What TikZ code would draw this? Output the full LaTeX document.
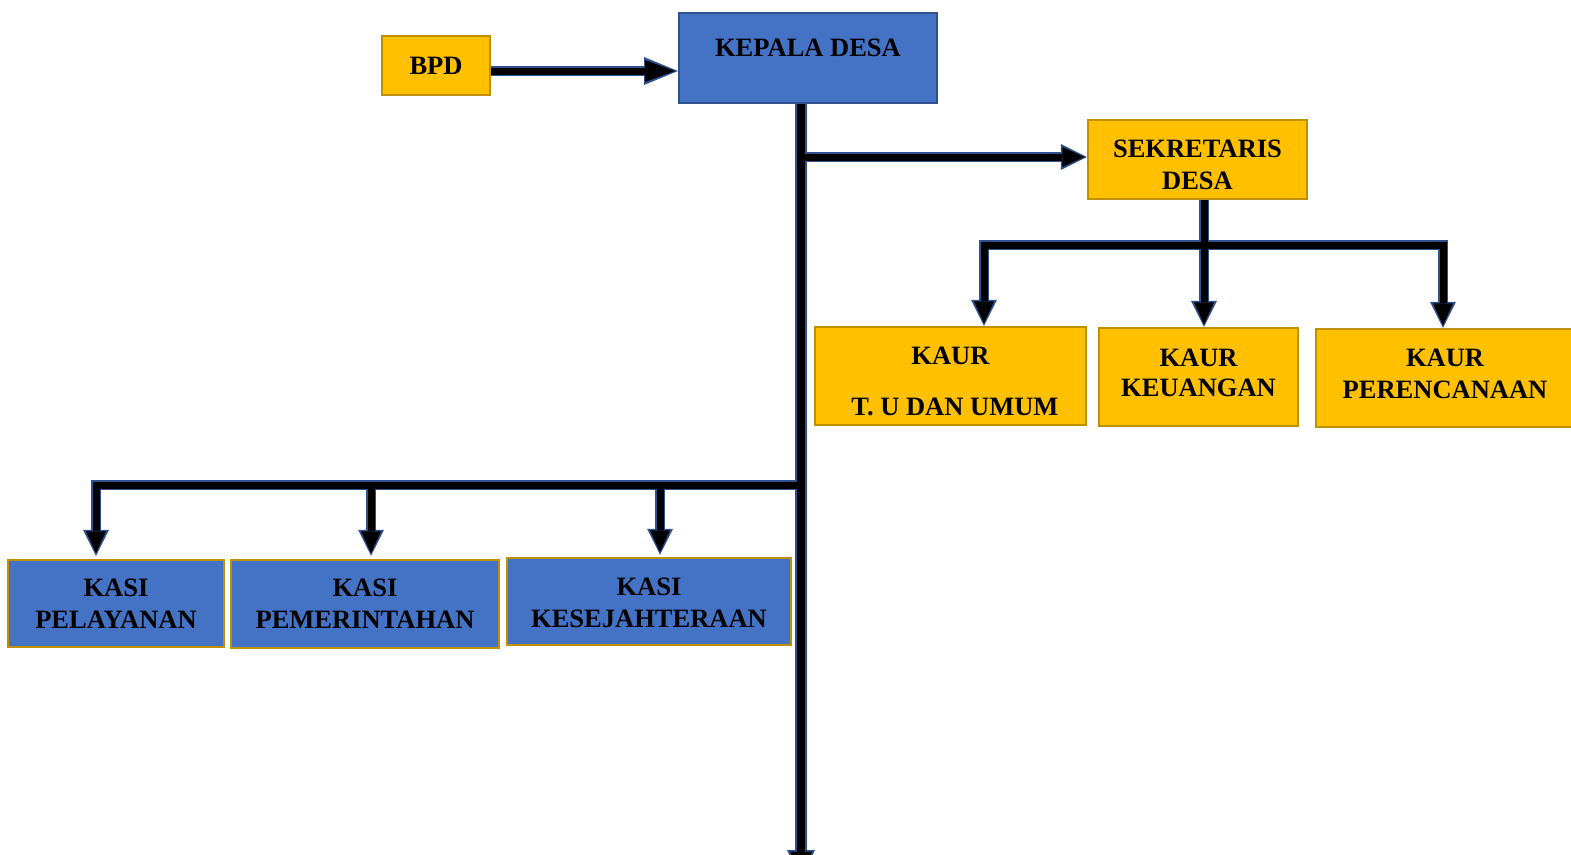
\documentclass[tikz,border=0pt]{standalone}
\usepackage{fontspec}
\setmainfont{Liberation Serif}
\usetikzlibrary{arrows.meta,calc}
\definecolor{boxblue}{HTML}{4472C4}
\definecolor{edgeblue}{HTML}{2F528F}
\definecolor{boxgold}{HTML}{FFC000}
\definecolor{edgegold}{HTML}{BF9000}
\definecolor{lineblue}{HTML}{2F528F}
\newcommand{\twolines}[1]{\begin{tabular}[t]{@{}c@{}}#1\end{tabular}}
\begin{document}
\begin{tikzpicture}[x=1pt,y=-1pt,
  every node/.style={font=\fontsize{26.5}{32}\selectfont\bfseries, inner sep=0pt, align=center},
  goldbox/.style={draw=edgegold, fill=boxgold, line width=2.2pt},
  bluebox/.style={draw=edgeblue, fill=boxblue, line width=2pt},
  kasibox/.style={draw=edgegold, fill=boxblue, line width=2.5pt},
  back/.style={draw=lineblue, line width=10pt},
  front/.style={draw=black, line width=7pt},
  backbar/.style={back, line cap=rect},
  frontbar/.style={front, line cap=rect},
  backarr/.style={back, -{Triangle[length=26pt,width=26pt,line width=0pt]}},
  frontarr/.style={front, shorten >=2.5pt, -{Triangle[length=22pt,width=20pt,line width=0pt]}},
  bigback/.style={back, -{Triangle[length=34pt,width=28pt,line width=0pt]}},
  bigfront/.style={front, shorten >=3pt, -{Triangle[length=30pt,width=22pt,line width=0pt]}},
  trunkback/.style={draw=lineblue, line width=12pt, -{Triangle[length=30pt,width=28pt,line width=0pt]}},
  trunkfront/.style={draw=black, line width=8.5pt, shorten >=2.5pt, -{Triangle[length=26pt,width=22pt,line width=0pt]}},
]
\useasboundingbox (0,0) rectangle (1571,854);
\clip (0,0) rectangle (1571,854);

% boxes
\node[goldbox, minimum width=108pt, minimum height=59pt] (bpd) at (436,65.5) {BPD};
\node[bluebox, minimum width=258pt, text height=43pt, text depth=47pt] (kepala) at (808,58) {KEPALA DESA};
\node[goldbox, minimum width=219pt, text height=37pt, text depth=42pt] (sek) at (1197.5,159.5) {\twolines{SEKRETARIS\\DESA}};
\node[goldbox, minimum width=271pt, text height=37pt, text depth=61pt] (kaur1) at (950.5,376) {\twolines{KAUR\\[19pt]\,\,T. U DAN UMUM}};
\node[goldbox, minimum width=199pt, text height=38pt, text depth=60pt] (kaur2) at (1198.5,377) {\twolines{KAUR\\[-2pt]KEUANGAN}};
\node[goldbox, minimum width=258pt, text height=37pt, text depth=61pt] (kaur3) at (1445,378) {\twolines{KAUR\\PERENCANAAN}};
\node[kasibox, minimum width=216pt, text height=36pt, text depth=51pt] (kasi1) at (116,603.5) {\twolines{KASI\\PELAYANAN}};
\node[kasibox, minimum width=268pt, text height=36pt, text depth=52pt] (kasi2) at (365,604) {\twolines{KASI\\PEMERINTAHAN}};
\node[kasibox, minimum width=284pt, text height=37pt, text depth=50pt] (kasi3) at (649,601.5) {\twolines{KASI\\KESEJAHTERAAN}};

% connector points
\coordinate (trunk) at ($(kepala.south)+(-7,0)$);
\coordinate (trunkend) at (801,880);
\coordinate (bpdout) at ($(bpd.east)+(0,5.5)$);
\coordinate (sekin) at ($(sek.west)+(0,-2.5)$);
\coordinate (sj) at ($(sek.south)+(6.5,45)$);
\coordinate (k1a) at ($(kaur1.north)+(33.5,0)$);
\coordinate (k2a) at ($(kaur2.north)+(5.5,0)$);
\coordinate (k3a) at ($(kaur3.north)+(-2,0)$);
\coordinate (kj) at ($(trunk)+(0,381)$);
\coordinate (s1a) at ($(kasi1.north)+(-20,-3)$);
\coordinate (s2a) at ($(kasi2.north)+(6,-3)$);
\coordinate (s3a) at ($(kasi3.north)+(11,-2)$);

% back (blue outline) layer
\draw[trunkback] (trunk) -- (trunkend);
\draw[bigback] (bpdout) -- (bpdout -| kepala.west);
\draw[backarr] (trunk |- sekin) -- (sekin);
\draw[back] (sek.south -| sj) -- (sj);
\draw[backbar] (k1a |- sj) -- (k3a |- sj);
\draw[backarr] (k1a |- sj) -- (k1a);
\draw[backarr] (sj) -- (k2a);
\draw[backarr] (k3a |- sj) -- (k3a);
\draw[backbar] (s1a |- kj) -- (kj);
\draw[backarr] (s1a |- kj) -- (s1a);
\draw[backarr] (s2a |- kj) -- (s2a);
\draw[backarr] (s3a |- kj) -- (s3a);

% front (black) layer
\draw[trunkfront] (trunk) -- (trunkend);
\draw[bigfront] (bpdout) -- (bpdout -| kepala.west);
\draw[frontarr] (trunk |- sekin) -- (sekin);
\draw[front] (sek.south -| sj) -- (sj);
\draw[frontbar] (k1a |- sj) -- (k3a |- sj);
\draw[frontarr] (k1a |- sj) -- (k1a);
\draw[frontarr] (sj) -- (k2a);
\draw[frontarr] (k3a |- sj) -- (k3a);
\draw[frontbar] (s1a |- kj) -- (kj);
\draw[frontarr] (s1a |- kj) -- (s1a);
\draw[frontarr] (s2a |- kj) -- (s2a);
\draw[frontarr] (s3a |- kj) -- (s3a);
\end{tikzpicture}
\end{document}
